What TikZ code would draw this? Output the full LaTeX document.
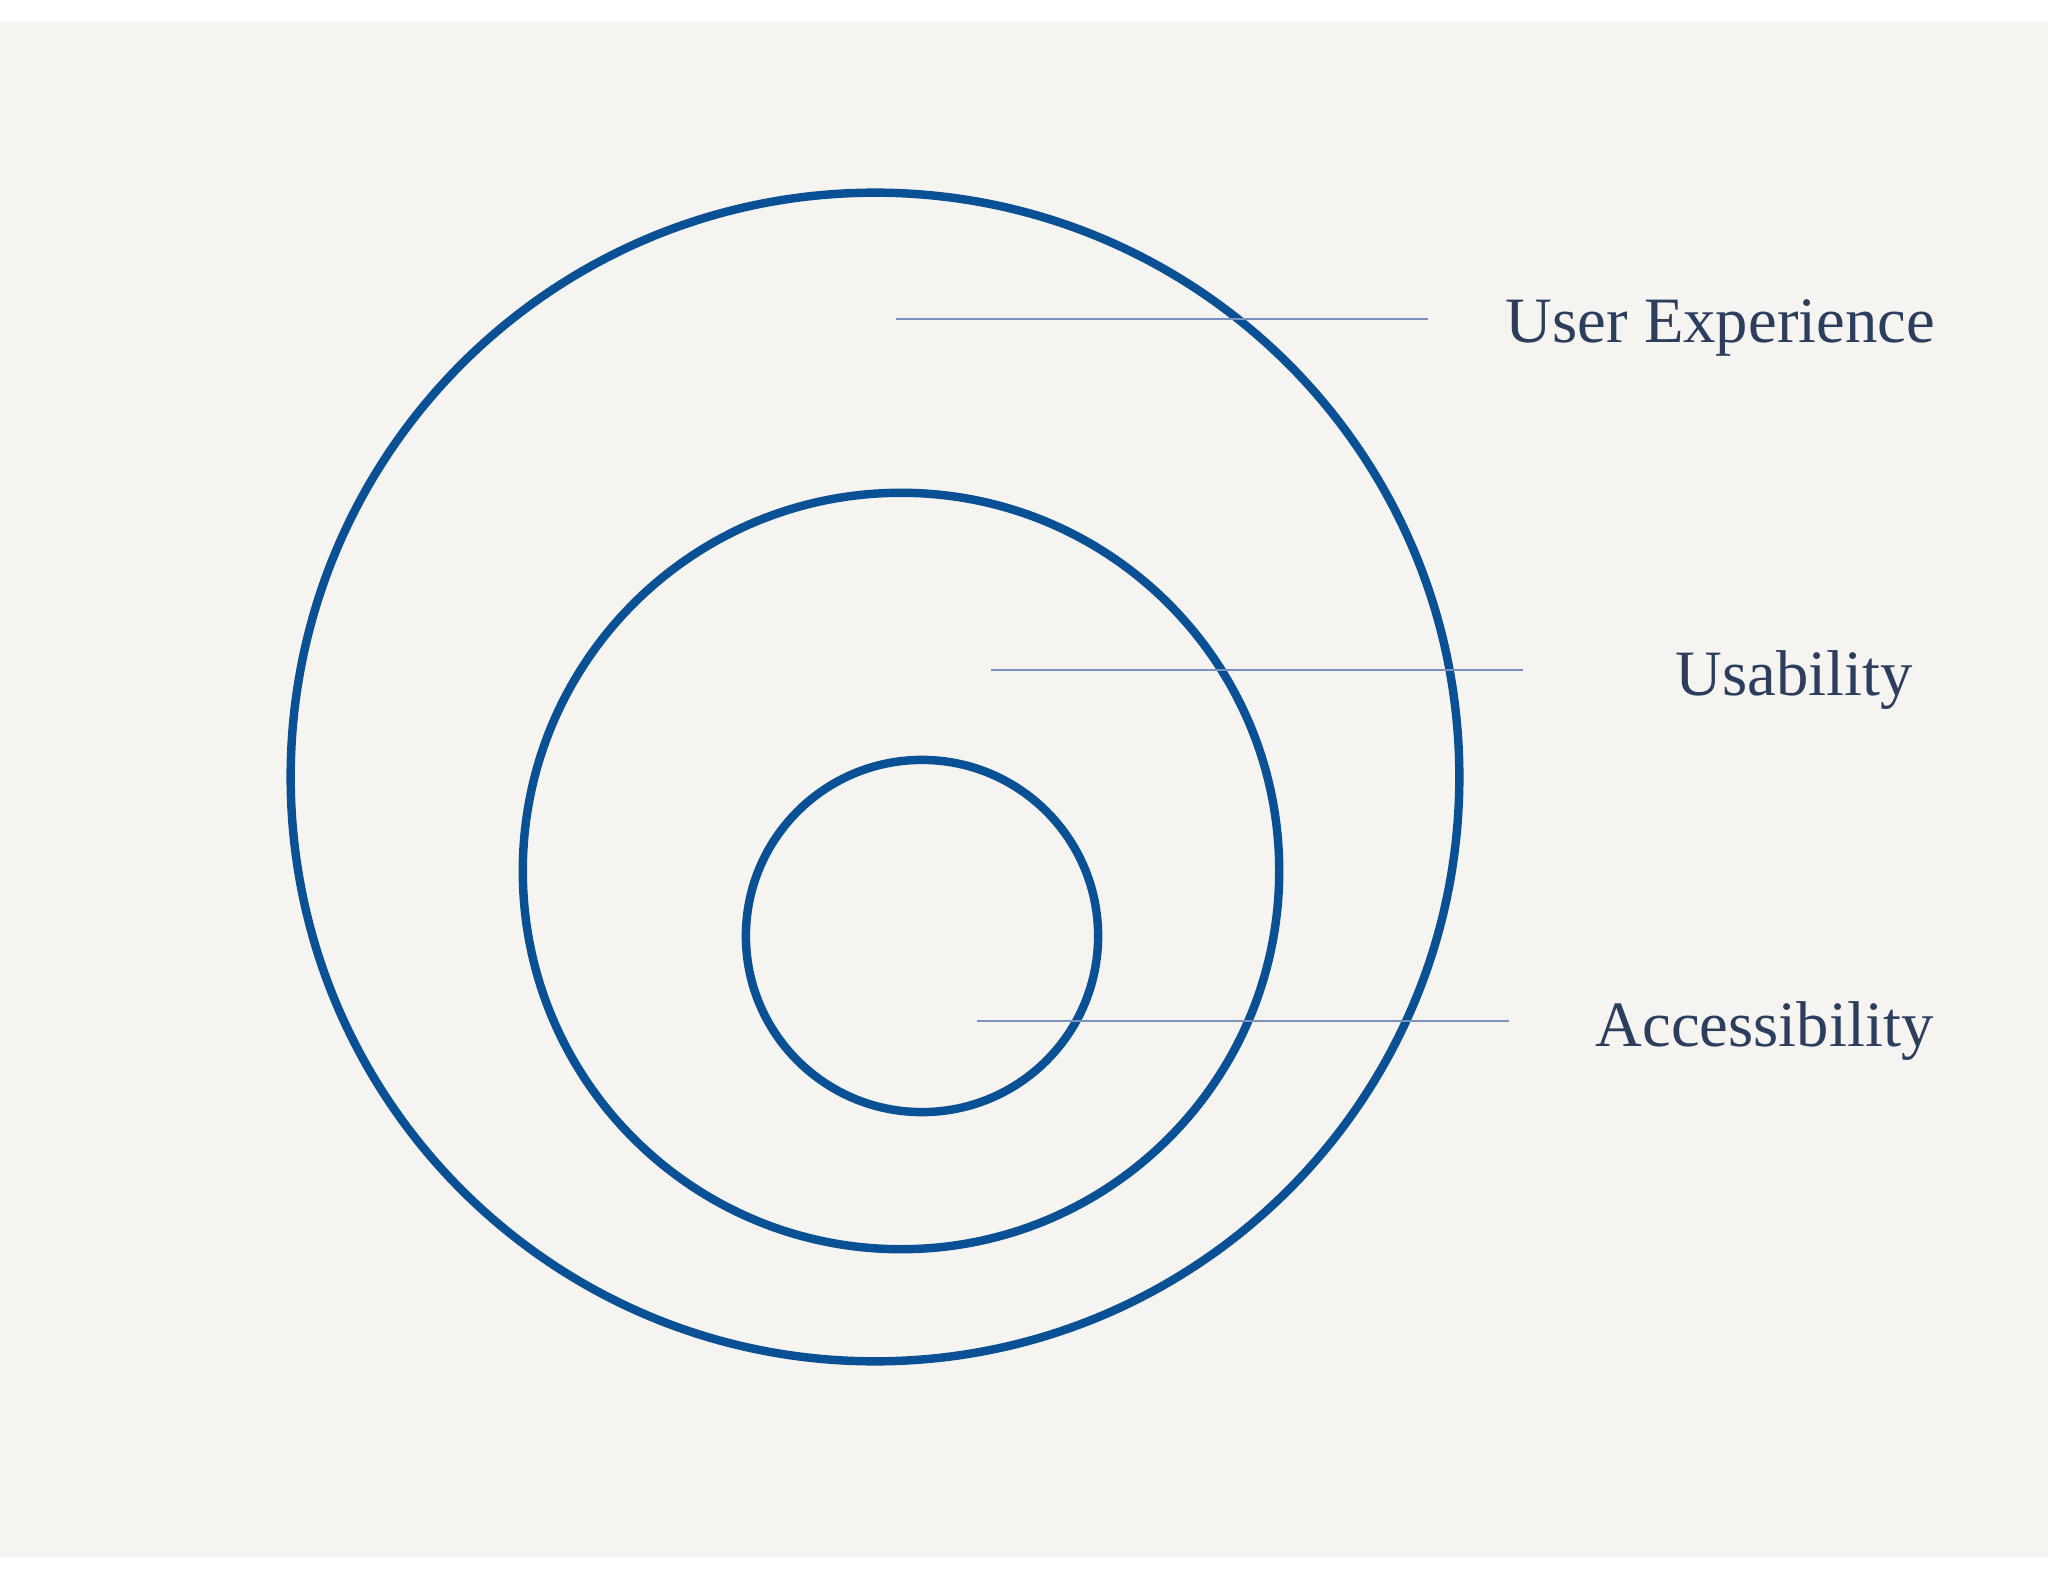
\documentclass[tikz,border=0pt]{standalone}
\usepackage{fontspec}
\setmainfont{Liberation Serif}
\usetikzlibrary{calc,positioning}
\definecolor{paper}{RGB}{246,244,240}
\definecolor{ringblue}{RGB}{10,80,148}
\definecolor{leaderblue}{RGB}{122,146,190}
\definecolor{labelink}{RGB}{44,62,94}
\tikzset{
	ring/.style={draw=ringblue, line width=2.4pt, circle, inner sep=0pt},
	leader/.style={draw=leaderblue, line width=0.55pt},
	lbl/.style={text=labelink, font=\fontsize{18.4}{21}\selectfont, anchor=base west, inner sep=0pt}
}
\begin{document}
\begin{tikzpicture}[x=0.01cm,y=-0.01cm]
	\useasboundingbox[fill=white] (0,0) rectangle (2048,1582);
	\fill[paper] (0,22) rectangle (2048,1557);
	\node[ring, minimum size=11.68cm] at (875,777) (ux) {};
	\node[ring, minimum size=7.56cm] at (901,871) (us) {};
	\node[ring, minimum size=3.52cm] at (922,936) (acc) {};
	\node[lbl] at (1505,343) (uxl) {User Experience};
	\node[lbl] at (1675,695) (usl) {Usability};
	\node[lbl] at (1595,1046) (accl) {Accessibility};
	\coordinate (uxa) at (896,319);
	\coordinate (uxb) at (1428,319);
	\coordinate (usa) at (991,670);
	\coordinate (usb) at (1523,670);
	\coordinate (acca) at (977,1021);
	\coordinate (accb) at (1509,1021);
	\foreach \i in {ux,us,acc}{
		\draw[leader] (\i a) -- (\i b);
	}
\end{tikzpicture}
\end{document}
